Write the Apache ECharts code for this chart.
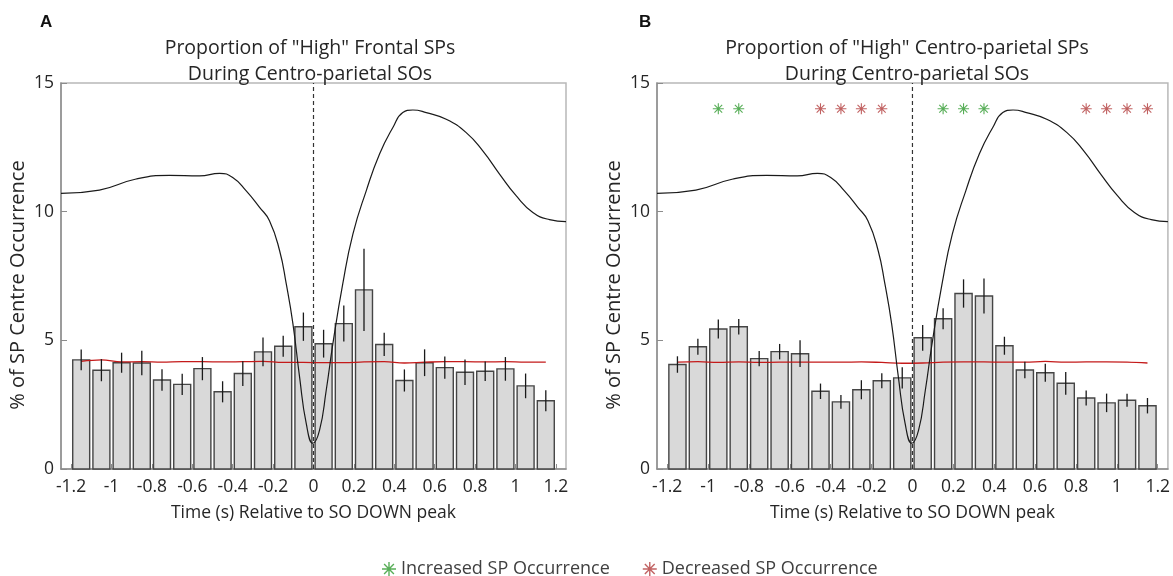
<!DOCTYPE html>
<html>
<head>
<meta charset="utf-8">
<script src="https://cdn.jsdelivr.net/npm/echarts@6/dist/echarts.min.js"></script>
<style>
html,body{margin:0;padding:0;background:#fff;}
#chart{width:1173px;height:576px;}
</style>
</head>
<body>
<div id="chart"></div>
<script>
// ---- data ----
const binCenters = [-1.15,-1.05,-0.95,-0.85,-0.75,-0.65,-0.55,-0.45,-0.35,-0.25,-0.15,-0.05,
                    0.05,0.15,0.25,0.35,0.45,0.55,0.65,0.75,0.85,0.95,1.05,1.15];
const barsA = [4.24,3.84,4.13,4.12,3.46,3.29,3.90,3.00,3.71,4.55,4.77,5.53,
               4.87,5.65,6.96,4.84,3.44,4.13,3.94,3.76,3.80,3.89,3.23,2.65];
const errA  = [0.40,0.43,0.39,0.48,0.42,0.41,0.45,0.41,0.48,0.56,0.41,0.55,
               0.54,0.70,1.60,0.45,0.43,0.52,0.43,0.50,0.38,0.46,0.48,0.41];
const barsB = [4.06,4.75,5.44,5.53,4.29,4.56,4.48,3.02,2.61,3.08,3.43,3.54,
               5.10,5.84,6.82,6.72,4.79,3.85,3.74,3.33,2.76,2.57,2.67,2.46];
const errB  = [0.32,0.31,0.37,0.30,0.30,0.30,0.52,0.30,0.27,0.37,0.29,0.41,
               0.50,0.41,0.55,0.68,0.35,0.32,0.35,0.44,0.29,0.36,0.25,0.30];
const chanceA = [4.18,4.24,4.16,4.17,4.15,4.17,4.17,4.16,4.17,4.18,4.14,4.14,
                 4.13,4.13,4.16,4.17,4.12,4.15,4.17,4.17,4.16,4.17,4.15,4.15];
const chanceB = [4.15,4.17,4.14,4.16,4.14,4.15,4.15,4.15,4.15,4.16,4.14,4.11,
                 4.12,4.15,4.16,4.16,4.15,4.15,4.18,4.15,4.16,4.16,4.15,4.12];
const waveT = [-1.25,-1.06,-0.878,-0.713,-0.564,-0.465,-0.40,-0.333,-0.267,-0.218,-0.168,-0.135,
               -0.102,-0.069,-0.036,-0.003,0.03,0.063,0.096,0.145,0.195,0.261,0.327,0.393,0.442,
               0.492,0.558,0.657,0.756,0.838,0.921,1.003,1.086,1.168,1.25];
const waveV = [10.71,10.84,11.27,11.41,11.39,11.49,11.33,10.81,10.17,9.65,8.49,7.20,
               5.65,3.58,1.77,1.00,1.51,3.06,4.87,7.20,9.13,10.81,12.24,13.27,13.85,
               13.95,13.85,13.59,13.07,12.36,11.46,10.62,9.97,9.69,9.61];
const increasedT = [-0.95,-0.85,0.15,0.25,0.35];
const decreasedT = [-0.45,-0.35,-0.25,-0.15,0.85,0.95,1.05,1.15];
const starLevel = 14;
const xTickValues = [-1.2,-1,-0.8,-0.6,-0.4,-0.2,0,0.2,0.4,0.6,0.8,1,1.2];
const titleA = 'Proportion of "High" Frontal SPs\nDuring Centro-parietal SOs';
const titleB = 'Proportion of "High" Centro-parietal SPs\nDuring Centro-parietal SOs';
const xName = 'Time (s) Relative to SO DOWN peak';
const yName = '% of SP Centre Occurrence';
const legendInc = 'Increased SP Occurrence';
const legendDec = 'Decreased SP Occurrence';

// ---- styling ----
const FONT = '"Open Sans", "DejaVu Sans", sans-serif';
const TXT = '#262626';
const STAR = 'path://M-1,-10 L1,-10 L1,10 L-1,10 Z M-10,-1 L10,-1 L10,1 L-10,1 Z ' +
             'M-7.7,-6.3 L-6.3,-7.7 L7.7,6.3 L6.3,7.7 Z M6.3,-7.7 L7.7,-6.3 L-6.3,7.7 L-7.7,6.3 Z';

const chart = echarts.init(document.getElementById('chart'), null, {renderer: 'canvas'});

function xAxisCfg(gi) {
  return {
    type: 'value', gridIndex: gi, min: -1.25, max: 1.25,
    name: xName, nameLocation: 'middle', nameGap: 35,
    nameTextStyle: {fontFamily: FONT, fontSize: 17.5, color: TXT},
    axisLine: {show: true, onZero: false, lineStyle: {color: '#8c8c8c', width: 1.5}},
    axisTick: {show: true, inside: true, length: 5, customValues: xTickValues, lineStyle: {color: '#8c8c8c'}},
    axisLabel: {customValues: xTickValues, margin: 9, fontFamily: FONT, fontSize: 17.5, color: TXT,
                formatter: v => String(+(+v).toFixed(1))},
    splitLine: {show: false}
  };
}
function yAxisCfg(gi) {
  return {
    type: 'value', gridIndex: gi, min: 0, max: 15, interval: 5,
    name: yName, nameLocation: 'middle', nameGap: 33, nameRotate: 90,
    nameTextStyle: {fontFamily: FONT, fontSize: 20, color: TXT, padding: [0, 18, 0, 0]},
    axisLine: {show: true, onZero: false, lineStyle: {color: '#8c8c8c', width: 1.5}},
    axisTick: {show: true, inside: true, length: 6, lineStyle: {color: '#8c8c8c'}},
    axisLabel: {margin: 7, fontFamily: FONT, fontSize: 17.5, color: TXT},
    splitLine: {show: false}
  };
}

function barRender(params, api) {
  const x = api.value(0), y = api.value(1);
  const base = api.coord([x, 0]);
  const top = api.coord([x, y]);
  const w = api.size([0.084, 0])[0];
  return {
    type: 'rect',
    shape: {x: top[0] - w / 2, y: top[1], width: w, height: base[1] - top[1]},
    style: {fill: '#d9d9d9', stroke: '#454545', lineWidth: 1.4}
  };
}
function errRender(params, api) {
  const x = api.value(0), y = api.value(1), e = api.value(2);
  const p1 = api.coord([x, y - e]);
  const p2 = api.coord([x, y + e]);
  return {
    type: 'line',
    shape: {x1: p1[0], y1: p1[1], x2: p2[0], y2: p2[1]},
    style: {stroke: '#1a1a1a', lineWidth: 1.3}
  };
}

function panelSeries(gi, bars, errs, chance) {
  const barData = binCenters.map((t, i) => [t, bars[i], errs[i]]);
  return [
    {type: 'custom', xAxisIndex: gi, yAxisIndex: gi, renderItem: barRender, data: barData, z: 1, silent: true},
    {type: 'line', xAxisIndex: gi, yAxisIndex: gi, data: binCenters.map((t, i) => [t, chance[i]]),
     showSymbol: false, smooth: 0.4, lineStyle: {color: '#c41a1a', width: 1.3}, z: 3, silent: true},
    {type: 'line', xAxisIndex: gi, yAxisIndex: gi, data: waveT.map((t, i) => [t, waveV[i]]),
     showSymbol: false, smooth: 0.5, lineStyle: {color: '#1a1a1a', width: 1.2}, z: 4, silent: true},
    {type: 'custom', xAxisIndex: gi, yAxisIndex: gi, renderItem: errRender, data: barData, z: 5, silent: true},
    {type: 'line', xAxisIndex: gi, yAxisIndex: gi, data: [[0, 0], [0, 15]],
     showSymbol: false, lineStyle: {color: '#333', width: 1.2, type: [4, 3]}, z: 6, silent: true}
  ];
}

const option = {
  backgroundColor: '#fff',
  animation: false,
  title: [
    {text: 'A', left: 35, top: 9, textStyle: {fontFamily: '"Liberation Sans", Arial, sans-serif', fontWeight: 'bold', fontSize: 17, color: '#111'}},
    {text: 'B', left: 634, top: 9, textStyle: {fontFamily: '"Liberation Sans", Arial, sans-serif', fontWeight: 'bold', fontSize: 17, color: '#111'}},
    {text: titleA, left: 305, top: 30, textAlign: 'center',
     textStyle: {fontFamily: FONT, fontWeight: 'normal', fontSize: 19.5, lineHeight: 26, color: TXT}},
    {text: titleB, left: 902, top: 30, textAlign: 'center',
     textStyle: {fontFamily: FONT, fontWeight: 'normal', fontSize: 19.5, lineHeight: 26, color: TXT}}
  ],
  legend: {
    left: 377, top: 555, itemGap: 33, itemWidth: 14, itemHeight: 14,
    textStyle: {fontFamily: FONT, fontSize: 18, color: '#404040'},
    data: [legendInc, legendDec]
  },
  grid: [
    {left: 61, right: 607, top: 83, bottom: 107, show: true, borderColor: '#b8b8b8', borderWidth: 1.5, backgroundColor: 'transparent'},
    {left: 657, right: 4, top: 83, bottom: 107, show: true, borderColor: '#b8b8b8', borderWidth: 1.5, backgroundColor: 'transparent'}
  ],
  xAxis: [xAxisCfg(0), xAxisCfg(1)],
  yAxis: [yAxisCfg(0), yAxisCfg(1)],
  series: [
    ...panelSeries(0, barsA, errA, chanceA),
    ...panelSeries(1, barsB, errB, chanceB),
    {name: legendInc, type: 'scatter', xAxisIndex: 1, yAxisIndex: 1, symbol: STAR, symbolSize: 11,
     itemStyle: {color: '#2e9a2e'}, data: increasedT.map(t => [t, starLevel]), z: 7, silent: true},
    {name: legendDec, type: 'scatter', xAxisIndex: 1, yAxisIndex: 1, symbol: STAR, symbolSize: 11,
     itemStyle: {color: '#b23b3b'}, data: decreasedT.map(t => [t, starLevel]), z: 7, silent: true}
  ]
};
chart.setOption(option);
</script>
</body>
</html>
